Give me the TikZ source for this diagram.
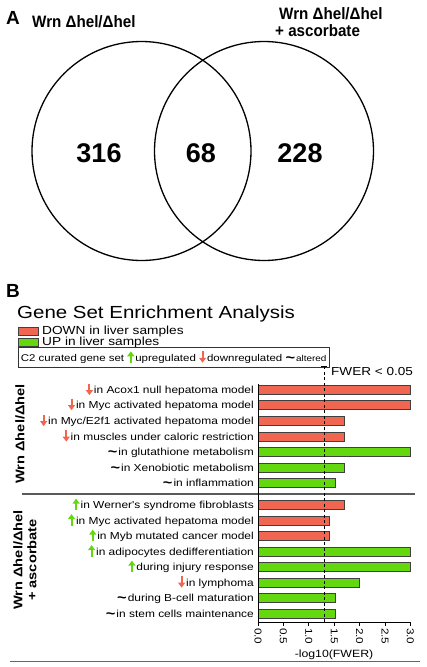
\documentclass[tikz,border=0pt]{standalone}
\usepackage{fontspec}
\setmainfont{Liberation Sans}
\newfontfamily\figfont[FakeStretch=1.17]{Liberation Sans}
\newfontfamily\vennfont[FakeStretch=0.92]{Liberation Sans}
\usetikzlibrary{arrows.meta}

\definecolor{downred}{RGB}{240,102,80}
\definecolor{upgreen}{RGB}{100,216,14}

\newcommand{\uparr}{\tikz[baseline=0pt]\draw[upgreen,line width=2pt,-{Triangle[length=5pt,width=7pt]}] (0pt,-1.5pt) -- (0pt,10pt);\kern1pt}
\newcommand{\downarr}{\tikz[baseline=0pt]\draw[downred,line width=2pt,-{Triangle[length=5pt,width=7pt]}] (0pt,10pt) -- (0pt,-1.5pt);\kern1pt}
\newcommand{\altmark}{\raisebox{-1.2pt}{\bfseries\fontsize{14}{14}\selectfont\textasciitilde}\kern1pt}

\begin{document}
\begin{tikzpicture}[x=1pt,y=-1pt,
    panel/.style={anchor=base west,inner sep=0pt,font=\bfseries\fontsize{19}{21}\selectfont},
    venntitle/.style={anchor=base west,inner sep=0pt,font=\vennfont\bfseries\fontsize{16.5}{18}\selectfont},
    count/.style={font=\bfseries\fontsize{27}{29}\selectfont},
    set/.style={circle,draw,line width=1.3pt,minimum size=219pt,inner sep=0pt},
    rowlabel/.style={anchor=base east,inner sep=0pt,font=\figfont\fontsize{10.2}{12}\selectfont},
    group/.style={rotate=90,align=center,inner sep=0pt,font=\figfont\bfseries\fontsize{12.5}{14}\selectfont},
    bar/.style={draw=black!75,line width=.7pt},
    axis/.style={line width=.8pt},
    ticklab/.style={rotate=-90,anchor=west,inner sep=0pt,font=\figfont\fontsize{10}{12}\selectfont}]
    \useasboundingbox (0,0) rectangle (426,667);

    % panel A: venn diagram
    \node[panel] (A) at (6,24) {A};
    \node[venntitle] (wrnL) at (32,27) {Wrn Δhel/Δhel};
    \node[venntitle] (wrnR) at (279,19) {Wrn Δhel/Δhel};
    \node[venntitle] (ascR) at (275,36) {+ ascorbate};
    \node[set] (setL) at (141.5,151) {};
    \node[set] (setR) at (264,151) {};
    \node[count] (n316) at (99,153) {316};
    \node[count] (n68) at (201,153) {68};
    \node[count] (n228) at (300,153) {228};

    % panel B: title and key
    \node[panel] (B) at (6,297) {B};
    \node[anchor=base west,inner sep=0pt,font=\figfont\fontsize{17.5}{19}\selectfont] (title) at (17,318) {Gene Set Enrichment Analysis};
    \node[bar,fill=downred,anchor=north west,minimum width=20pt,minimum height=7.5pt,inner sep=0pt] (keyD) at (18,327) {};
    \node[bar,fill=upgreen,anchor=north west,minimum width=20pt,minimum height=7.5pt,inner sep=0pt] (keyU) at (18,338) {};
    \node[anchor=base west,inner sep=0pt,font=\figfont\fontsize{11.7}{13}\selectfont] (down) at (42,334) {DOWN in liver samples};
    \node[anchor=base west,inner sep=0pt,font=\figfont\fontsize{11.7}{13}\selectfont] (up) at (42,345.5) {UP in liver samples};
    \node[draw=black!80,line width=.8pt,anchor=west,inner xsep=2.5pt,minimum height=16pt,font=\figfont\fontsize{9.8}{11}\selectfont] (key) at (18,357)
        {C2 curated gene set \uparr upregulated \downarr downregulated \altmark{\fontsize{8.5}{9}\selectfont altered}};

    % bars
    \foreach \y/\v/\c/\lab [count=\i] in {
        390/3.0/downred/{\downarr in Acox1 null hepatoma model},
        405/3.0/downred/{\downarr in Myc activated hepatoma model},
        421/1.7/downred/{\downarr in Myc/E2f1 activated hepatoma model},
        436.5/1.7/downred/{\downarr in muscles under caloric restriction},
        452/3.0/upgreen/{\altmark in glutathione metabolism},
        467.5/1.7/upgreen/{\altmark in Xenobiotic metabolism},
        483/1.52/upgreen/{\altmark in inflammation},
        505/1.7/downred/{\uparr in Werner's syndrome fibroblasts},
        520.5/1.4/downred/{\uparr in Myc activated hepatoma model},
        536/1.4/downred/{\uparr in Myb mutated cancer model},
        551.5/3.0/upgreen/{\uparr in adipocytes dedifferentiation},
        567/3.0/upgreen/{\uparr during injury response},
        582.5/2.0/upgreen/{\downarr in lymphoma},
        598/1.52/upgreen/{\altmark during B-cell maturation},
        613.5/1.52/upgreen/{\altmark in stem cells maintenance}}{
        \node[rowlabel] (row\i) at (254,\y+3.6) {\lab};
        \draw[bar,fill=\c] (258,\y-4.5) rectangle ({258+50.8*\v},\y+4.5);
    }

    % groups
    \node[group] (grpA) at (20,434) {Wrn Δhel/Δhel};
    \node[group] (grpB) at (25,560) {Wrn Δhel/Δhel\\+ ascorbate};
    \draw[gray!70!black,line width=1.2pt] (22,494) -- (415,494);

    % axes
    \coordinate (origin) at (258,622);
    \coordinate (top) at (258,384);
    \coordinate (end) at (410.4,622);
    \draw[axis] (top) -- (origin) -- (end);
    \foreach \v/\tl [count=\i] in {0/0.0,0.5/0.5,1/1.0,1.5/1.5,2/2.0,2.5/2.5,3/3.0}{
        \draw[axis] ({258+50.8*\v},622) -- ++(0,4);
        \node[ticklab] (tick\i) at ({258+50.8*\v},628) {\tl};
    }
    \node[anchor=base,inner sep=0pt,font=\figfont\fontsize{10.5}{12}\selectfont] (xlabel) at (334,657) {-log10(FWER)};

    % threshold
    \coordinate (cut) at (324,366);
    \draw[line width=.9pt,dash pattern=on 3pt off 2.5pt] (cut) -- (cut|-origin);
    \draw[line width=.9pt] ([xshift=-3pt]cut) -- ([xshift=3pt]cut);
    \node[anchor=base west,inner sep=0pt,font=\figfont\fontsize{11.6}{13}\selectfont] (fwer) at (331,375) {FWER < 0.05};

    % bottom rule
    \draw[gray!80!black,line width=.8pt] (10,661) -- (420,661);
\end{tikzpicture}
\end{document}
